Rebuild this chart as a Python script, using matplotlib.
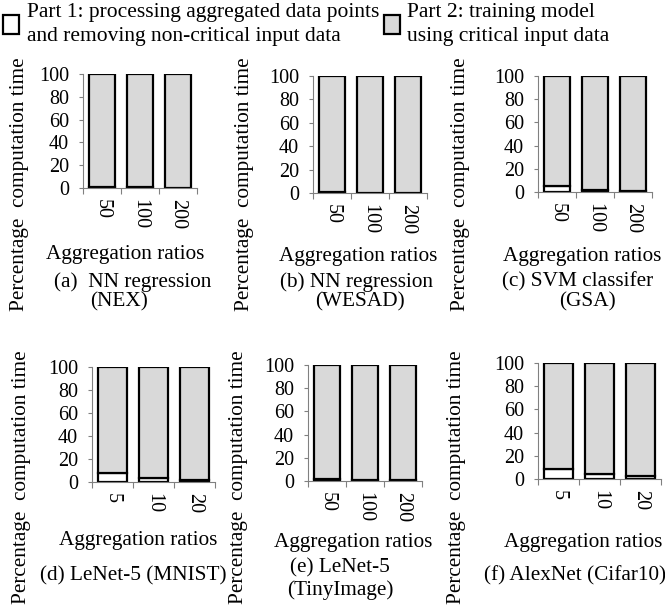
import numpy as np
import matplotlib
matplotlib.use("Agg")
import matplotlib.pyplot as plt

plt.rcParams['font.family'] = ['Liberation Serif', 'DejaVu Serif']

# ratios and share of computation time (%) spent in part 1
ratios_abc = ["50", "100", "200"]
ratios_d = ["5", "10", "20"]
ratios_f = ["5", "10", "20"]
part1_a = [1.0, 0.5, 0.3]
part1_b = [0.6, 0.4, 0.3]
part1_c = [5.0, 2.0, 1.0]
part1_d = [8.0, 3.5, 1.5]
part1_e = [2.0, 1.0, 0.5]
part1_f = [9.0, 4.0, 3.0]

titles = [["(a)  NN regression", "(NEX)"],
          ["(b) NN regression", "(WESAD)"],
          ["(c) SVM classifer", "(GSA)"],
          ["(d) LeNet-5 (MNIST)"],
          ["(e) LeNet-5", "(TinyImage)"],
          ["(f) AlexNet (Cifar10)"]]

W, H = 665, 614
fig = plt.figure(figsize=(W / 100, H / 100), dpi=100)

def px_axes(l, r, t, b):
    return fig.add_axes([l / W, 1 - b / H, (r - l) / W, (b - t) / H])

def px_text(x, y, s, **kw):
    return fig.text(x / W, 1 - y / H, s, **kw)

# pixel boxes of each panel: left, right, top, bottom
boxes = [(83, 197, 74, 188), (313, 427, 76, 193), (538, 652, 76, 192),
         (92, 215, 367, 482), (308, 422, 365, 481), (538, 661, 363, 479)]
panels = [(ratios_abc, part1_a), (ratios_abc, part1_b), (ratios_abc, part1_c),
          (ratios_d, part1_d), (ratios_abc, part1_e), (ratios_f, part1_f)]
ylab_x = [20, 245, 461, 22, 238, 456]
xlab_pos = [(125, 255), (358, 256), (582, 256), (138, 541), (353, 542), (583, 542)]
title_pos = [[(133, 282), (119, 302)], [(356, 282), (360, 302)], [(578, 282), (587, 302)],
             [(133, 576)], [(340, 568), (340, 590)], [(575, 576)]]

gray = "#d9d9d9"
fs = 15.3
tfs = 14.5

for i, (box, (cats, p1)) in enumerate(zip(boxes, panels)):
    ax = px_axes(*box)
    x = np.arange(len(cats))
    p1 = np.array(p1)
    p2 = 100 - p1
    b1 = ax.bar(x, p1, width=0.7, color="white", edgecolor="black", linewidth=1.6,
                label="Part 1: processing aggregated data points\nand removing non-critical input data")
    b2 = ax.bar(x, p2, bottom=p1, width=0.7, color=gray, edgecolor="black", linewidth=1.6,
                label="Part 2: training model\nusing critical input data")
    ax.set_xlim(-0.5, len(cats) - 0.5)
    ax.set_ylim(0, 100)
    ax.set_yticks([0, 20, 40, 60, 80, 100])
    ax.tick_params(axis="y", labelsize=tfs, length=3, width=0.8, color="#808080", pad=7)
    # category axis: ticks between categories, labels at centres
    ax.set_xticks(np.arange(len(cats) + 1) - 0.5)
    ax.set_xticklabels([])
    ax.set_xticks(x, minor=True)
    ax.set_xticklabels(cats, minor=True, rotation=-90, fontsize=tfs)
    ax.tick_params(axis="x", which="major", length=4, width=0.8, color="#808080")
    ax.tick_params(axis="x", which="minor", length=0, pad=8)
    for s in ["top", "right"]:
        ax.spines[s].set_visible(False)
    for s in ["left", "bottom"]:
        ax.spines[s].set_color("#808080")
        ax.spines[s].set_linewidth(0.8)

    cy = 184 if i < 3 else 477
    px_text(ylab_x[i], cy, "Percentage  computation time", rotation=90,
            ha="center", va="center", fontsize=fs)
    xx, yy = xlab_pos[i]
    px_text(xx, yy, "Aggregation ratios", ha="center", va="center", fontsize=fs)
    for line, (tx, ty) in zip(titles[i], title_pos[i]):
        px_text(tx, ty, line, ha="center", va="center", fontsize=fs)

    if i == 0:
        handles = [b1, b2]

leg = fig.legend(handles=handles, loc="upper left", bbox_to_anchor=(0.0, 1.0), ncol=2,
                 frameon=False, fontsize=15.5, handlelength=0.75, handleheight=1.0,
                 handletextpad=0.35, columnspacing=0.2, borderaxespad=0.1, borderpad=0.05,
                 labelspacing=0.2)
for t in leg.get_texts():
    t.set_linespacing(1.35)
# centre each handle against its two-line label
for col in leg._legend_handle_box.get_children():
    for row in col.get_children():
        row.align = "center"

fig.savefig("out.png", dpi=100)
